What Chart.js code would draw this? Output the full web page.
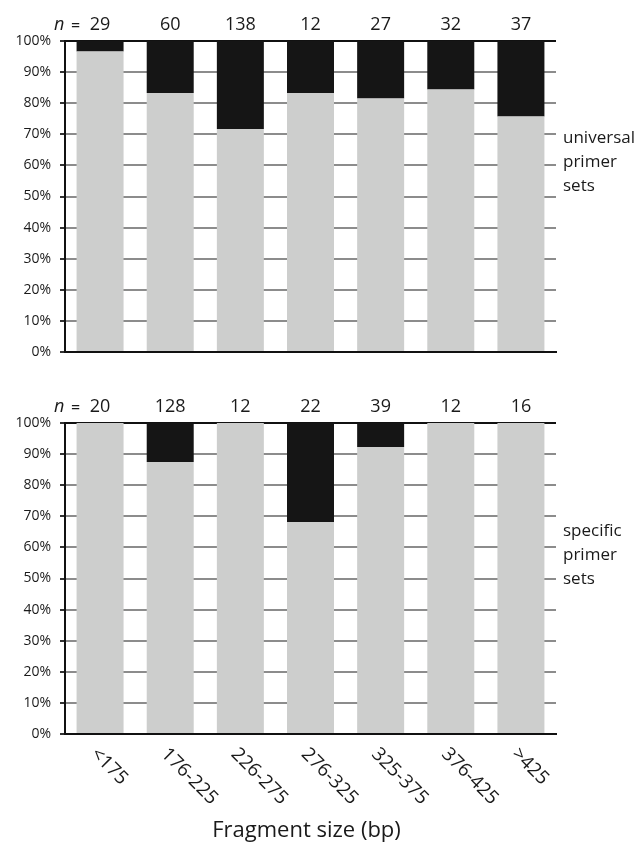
<!DOCTYPE html>
<html>
<head>
<meta charset="utf-8">
<script src="https://cdn.jsdelivr.net/npm/chart.js@4/dist/chart.umd.min.js"></script>
<style>
  html, body { margin: 0; padding: 0; background: #fff; }
  #wrap { position: relative; width: 639px; height: 847px; }
  #universal { position: absolute; left: 0; top: 0; width: 639px; height: 370px; }
  #specific { position: absolute; left: 0; top: 370px; width: 639px; height: 477px; }
</style>
</head>
<body>
<div id="wrap">
  <canvas id="universal" width="639" height="370"></canvas>
  <canvas id="specific" width="639" height="477"></canvas>
</div>
<script>
// Fragment size classes (bp)
const sizeClasses = ['<175', '176-225', '226-275', '276-325', '325-375', '376-425', '>425'];
const yTicks = [0, 10, 20, 30, 40, 50, 60, 70, 80, 90, 100];

// Universal primer sets: number of fragments per class, % amplified / % failed
const universalN = [29, 60, 138, 12, 27, 32, 37];
const universalAmplified = [96.6, 83.3, 71.7, 83.3, 81.5, 84.4, 75.7];
const universalFailed = [3.4, 16.7, 28.3, 16.7, 18.5, 15.6, 24.3];

// Specific primer sets
const specificN = [20, 128, 12, 22, 39, 12, 16];
const specificAmplified = [100, 87.5, 100, 68.2, 92.3, 100, 100];
const specificFailed = [0, 12.5, 0, 31.8, 7.7, 0, 0];

const FONT = '"Open Sans", "DejaVu Sans", sans-serif';
const INK = '#1a1a1a';
const GREY_BAR = '#cdcecd';
const BLACK_BAR = '#151515';

function textPlugin(nValues, sideLines, sideBaselines, withXLabels) {
  return {
    id: 'texts',
    afterDraw(chart) {
      const { ctx, chartArea, scales } = chart;
      const x = scales.x;
      ctx.save();
      ctx.fillStyle = INK;
      ctx.textBaseline = 'alphabetic';

      // sample sizes above each bar
      const yb = chartArea.top - 11;
      ctx.font = `18px ${FONT}`;
      ctx.textAlign = 'center';
      nValues.forEach((n, i) => ctx.fillText(String(n), x.getPixelForValue(i), yb));
      ctx.textAlign = 'left';
      ctx.font = `italic 18px ${FONT}`;
      ctx.fillText('n', 54, yb);
      ctx.font = `16px ${FONT}`;
      ctx.fillText('=', 71, yb + 1);

      // group label on the right
      ctx.font = `17px ${FONT}`;
      sideLines.forEach((t, k) => ctx.fillText(t, chartArea.right + 7, sideBaselines[k]));

      if (withXLabels) {
        // rotated category labels
        ctx.font = `19px ${FONT}`;
        ctx.textAlign = 'left';
        sizeClasses.forEach((lab, i) => {
          ctx.save();
          ctx.translate(x.getPixelForValue(i) - 10, chartArea.bottom + 21);
          ctx.rotate(Math.PI / 4);
          ctx.fillText(lab, 0, 0);
          ctx.restore();
        });
        // axis title
        ctx.font = `22px ${FONT}`;
        ctx.textAlign = 'center';
        ctx.fillText('Fragment size (bp)', (chartArea.left + chartArea.right) / 2 - 4, chartArea.bottom + 103);
      }
      ctx.restore();
    }
  };
}

function makeChart(id, amplified, failed, nValues, sideLines, sideBaselines, padTop, padBottom, withXLabels) {
  return new Chart(document.getElementById(id), {
    type: 'bar',
    data: {
      labels: sizeClasses,
      datasets: [
        { label: 'amplified', data: amplified, backgroundColor: GREY_BAR, borderWidth: 0,
          barPercentage: 0.67, categoryPercentage: 1 },
        { label: 'failed', data: failed, backgroundColor: BLACK_BAR, borderWidth: 0,
          barPercentage: 0.67, categoryPercentage: 1 }
      ]
    },
    options: {
      responsive: false,
      animation: false,
      devicePixelRatio: 1,
      layout: { padding: { left: 0, right: 83, top: padTop, bottom: padBottom } },
      plugins: { legend: { display: false }, tooltip: { enabled: false } },
      scales: {
        x: {
          stacked: true,
          afterFit(s) { s.height = 10; },
          ticks: { display: false },
          grid: { display: false },
          border: { display: true, color: '#111', width: 2 }
        },
        y: {
          stacked: true,
          min: 0,
          max: 100,
          afterFit(s) { s.width = 65; },
          afterBuildTicks(s) { s.ticks = yTicks.map(v => ({ value: v })); },
          ticks: {
            callback: v => v + '%',
            font: { family: FONT, size: 14 },
            color: INK,
            padding: 9
          },
          grid: {
            color: c => (c.tick && (c.tick.value === 100 || c.tick.value === 0)) ? '#111' : '#8c8c8c',
            lineWidth: 2,
            drawTicks: true,
            tickLength: 5,
            tickColor: '#333'
          },
          border: { display: true, color: '#111', width: 2 }
        }
      }
    },
    plugins: [textPlugin(nValues, sideLines, sideBaselines, withXLabels)]
  });
}

makeChart('universal', universalAmplified, universalFailed, universalN,
  ['universal', 'primer', 'sets'], [143, 167, 191], 41, 8, false);
makeChart('specific', specificAmplified, specificFailed, specificN,
  ['specific', 'primer', 'sets'], [166, 190, 214], 53, 103, true);
</script>
</body>
</html>
